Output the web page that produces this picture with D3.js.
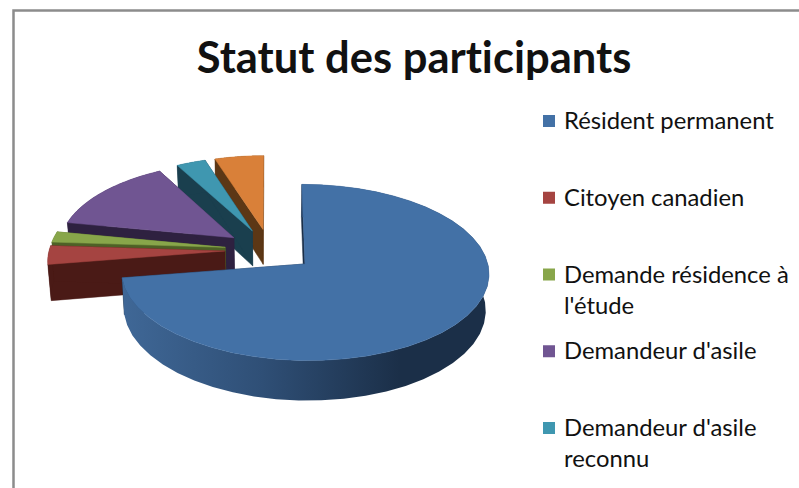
<!DOCTYPE html>
<html>
<head>
<meta charset="utf-8">
<script src="https://cdn.jsdelivr.net/npm/d3@7"></script>
<style>
    html, body { margin: 0; padding: 0; background: #fff; overflow: hidden; }
    svg { display: block; }
    text { font-family: Lato, "Open Sans", sans-serif; fill: #111; font-variant-ligatures: none; }
</style>
</head>
<body>
<svg id="chart" width="799" height="488"></svg>
<script>
var title = "Statut des participants";
var legendLabels = [
    ["Résident permanent"],
    ["Citoyen canadien"],
    ["Demande résidence à", "l'étude"],
    ["Demandeur d'asile"],
    ["Demandeur d'asile", "reconnu"]
];
// the sixth slice has its legend entry cropped away in the picture
var sliceValues = [72.5, 3.5, 2, 14, 3, 5];
var topColors = ["#4371a6", "#a54441", "#88a64a", "#705592", "#3f97b0", "#d98039"];
var wallColors = ["#1b2f48", "#4a1a16", "#4e6126", "#2e2140", "#1a3f4e", "#5c3715"];

var svg = d3.select("#chart");

/* Frame, cut by the edge of the picture on the right and at the bottom */
svg.append("path")
    .attr("d", "M13.5,488V10.5H799")
    .attr("fill", "none")
    .attr("stroke", "#8c8c8c")
    .attr("stroke-width", 2.5);

svg.append("text")
    .attr("x", 414)
    .attr("y", 73)
    .attr("text-anchor", "middle")
    .attr("font-size", 43.5)
    .attr("font-weight", 700)
    .text(title);

/* Tilted pie: unit circle -> screen, with a little perspective */
var centerX = 270, centerY = 250;
var radiusX = 181, radiusY = 84.6;
var persp = 0.095, depth = 35.6, explode = 0.25;

function project(u, v) {
    var s = 1 / (1 + persp * v);
    return [centerX + radiusX * u * s, centerY - radiusY * v * s];
}
function projectLow(u, v) {
    var p = project(u, v);
    var s = 1 / (1 + persp * v);
    return [centerX + (p[0] - centerX) * 0.985, p[1] + depth * s];
}

var defs = svg.append("defs");
var rimGrad = defs.append("linearGradient")
    .attr("id", "rimGrad")
    .attr("gradientUnits", "userSpaceOnUse")
    .attr("x1", 125).attr("x2", 400)
    .attr("y1", 0).attr("y2", 0);
rimGrad.append("stop").attr("offset", "0").attr("stop-color", "#3f6796");
rimGrad.append("stop").attr("offset", "0.5").attr("stop-color", "#2f4f76");
rimGrad.append("stop").attr("offset", "1").attr("stop-color", "#1b2f48");

var arcs = d3.pie().sort(null).value(d => d)(sliceValues);
var linePath = d3.line();
var pieGroup = svg.append("g").attr("class", "pie");

/* Painter's order: back slices first, main slice last */
d3.range(arcs.length - 1, -1, -1).forEach(function(i) {
    var a = arcs[i];
    var mid = (a.startAngle + a.endAngle) / 2;
    var ox = explode * Math.sin(mid), oy = explode * Math.cos(mid);
    var narrow = i == 0 ? 0.995 : 0.97;   // pulled slices sit a bit narrower
    var steps = d3.range(0, 41).map(t => a.startAngle + (a.endAngle - a.startAngle) * t / 40);
    var rimTop = steps.map(t => project(ox + narrow * Math.sin(t), oy + Math.cos(t)));
    var rimLow = steps.map(t => projectLow(ox + narrow * Math.sin(t), oy + Math.cos(t)));
    var apex = project(ox, oy);
    var apexLow = projectLow(ox, oy);
    var g = pieGroup.append("g");

    var walls = [
        [apex, rimTop[0], rimLow[0], apexLow],
        [apex, rimTop[40], rimLow[40], apexLow]
    ];
    walls.forEach(function(w) {
        g.append("path")
            .attr("d", linePath(w) + "Z")
            .attr("fill", wallColors[i])
            .attr("stroke", wallColors[i])
            .attr("stroke-width", 0.5);
    });
    g.append("path")
        .attr("d", linePath(rimTop.concat(rimLow.slice().reverse())) + "Z")
        .attr("fill", i == 0 ? "url(#rimGrad)" : wallColors[i])
        .attr("stroke", "none");
    g.append("path")
        .attr("d", linePath([apex].concat(rimTop)) + "Z")
        .attr("fill", topColors[i])
        .attr("stroke", topColors[i])
        .attr("stroke-width", 0.5);
});

/* Legend */
var legendY = d3.scalePoint()
    .domain(d3.range(legendLabels.length))
    .range([121, 428]);

var legend = svg.append("g").attr("class", "legend");
legendLabels.forEach(function(lines, i) {
    legend.append("rect")
        .attr("x", 543)
        .attr("y", legendY(i) - 6)
        .attr("width", 12)
        .attr("height", 12)
        .attr("fill", topColors[i]);
    lines.forEach(function(line, j) {
        legend.append("text")
            .attr("x", 564)
            .attr("y", legendY(i) + 8 + j * 31)
            .attr("font-size", 23.8)
            .text(line);
    });
});
</script>
</body>
</html>
